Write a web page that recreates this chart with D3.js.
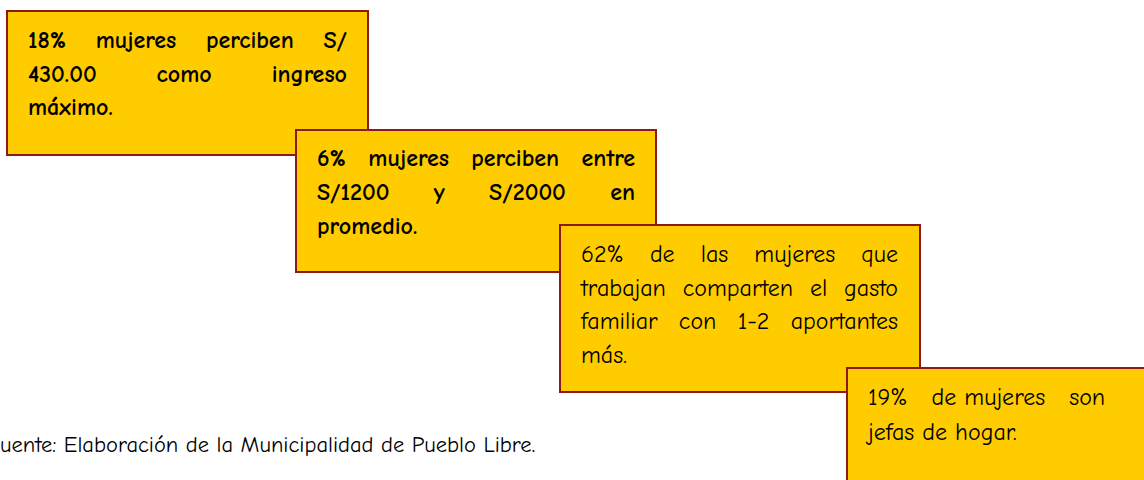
<!DOCTYPE html>
<html>
<head>
<meta charset="utf-8">
<script src="https://cdn.jsdelivr.net/npm/d3@7"></script>
<style>
  html, body { margin: 0; padding: 0; background: #ffffff; }
  svg { display: block; }
</style>
</head>
<body>
<svg id="chart" width="1144" height="480"></svg>
<script>
// ---- data (texts of the boxes) ----
const box1Lines = ["18% mujeres perciben S/", "430.00 como ingreso", "máximo."];
const box2Lines = ["6% mujeres perciben entre", "S/1200 y S/2000 en", "promedio."];
const box3Lines = ["62% de las mujeres que", "trabajan comparten el gasto", "familiar con 1-2 aportantes", "más."];
const box4Lines = ["19%   de mujeres   son", "jefas de hogar."];
const sourceNote = "Fuente: Elaboración de la Municipalidad de Pueblo Libre.";

// ---- layout ----
const FONT = "'Comic Sans MS', 'Comic Neue', 'Noto Sans', 'DejaVu Sans', sans-serif";
const boxes = [
  { lines: box1Lines, x: 7,   y: 11,  w: 361, h: 144, bold: true,  tx: 28,  tw: 319, base: 48,  lh: 33.5, justify: true },
  { lines: box2Lines, x: 296, y: 130, w: 360, h: 142, bold: true,  tx: 317, tw: 318, base: 166, lh: 34,   justify: true },
  { lines: box3Lines, x: 560, y: 225, w: 360, h: 167, bold: false, tx: 581, tw: 317, base: 262, lh: 33.7, justify: true },
  { lines: box4Lines, x: 847, y: 368, w: 360, h: 140, bold: false, tx: 868, tw: 320, base: 405, lh: 35,   justify: false }
];
const BOX_FONT_SIZE = 24;

const svg = d3.select("#chart");

boxes.forEach(b => {
  const g = svg.append("g");
  g.append("rect")
    .attr("x", b.x).attr("y", b.y)
    .attr("width", b.w).attr("height", b.h)
    .attr("fill", "#FFCC00")
    .attr("stroke", "#8B1A1A")
    .attr("stroke-width", 2);

  b.lines.forEach((line, i) => {
    const y = b.base + i * b.lh;
    const isLast = i === b.lines.length - 1;
    if (b.justify && !isLast) {
      const words = line.split(/\s+/);
      const tmp = words.map(w => g.append("text")
        .attr("font-family", FONT)
        .attr("font-size", BOX_FONT_SIZE)
        .attr("font-weight", b.bold ? "bold" : "normal")
        .attr("fill", "#000")
        .attr("y", y)
        .text(w));
      const widths = tmp.map(t => t.node().getComputedTextLength());
      const total = d3.sum(widths);
      const gap = words.length > 1 ? (b.tw - total) / (words.length - 1) : 0;
      let cx = b.tx;
      tmp.forEach((t, k) => { t.attr("x", cx); cx += widths[k] + gap; });
    } else {
      g.append("text")
        .attr("font-family", FONT)
        .attr("font-size", BOX_FONT_SIZE)
        .attr("font-weight", b.bold ? "bold" : "normal")
        .attr("fill", "#000")
        .attr("x", b.tx).attr("y", y)
        .attr("xml:space", "preserve")
        .style("white-space", "pre")
        .text(line);
    }
  });
});

svg.append("text")
  .attr("font-family", FONT)
  .attr("font-size", 22.5)
  .attr("fill", "#000")
  .attr("x", -13).attr("y", 452)
  .text(sourceNote);
</script>
</body>
</html>
